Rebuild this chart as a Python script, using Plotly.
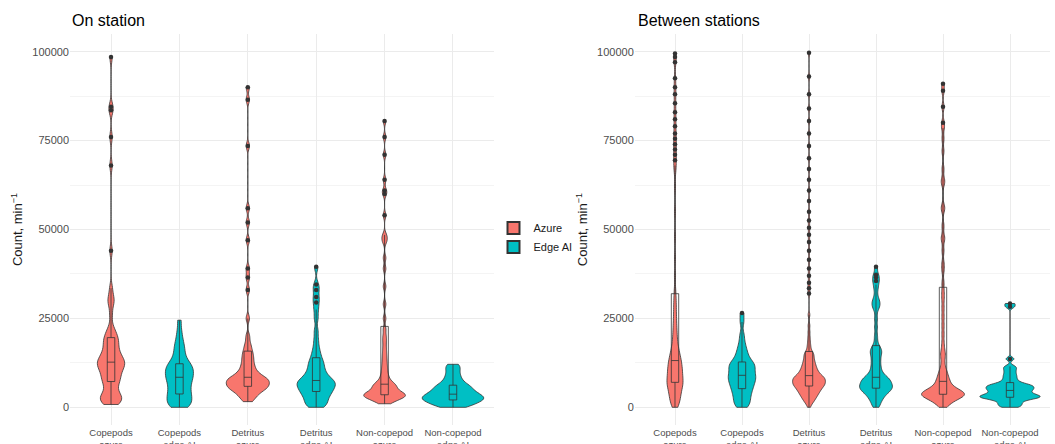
import plotly.graph_objects as go

categories = ["Copepods<br>azure", "Copepods<br>edge AI", "Detritus<br>azure",
              "Detritus<br>edge AI", "Non-copepod<br>azure", "Non-copepod<br>edge AI"]
group_source = ["Azure", "Edge AI", "Azure", "Edge AI", "Azure", "Edge AI"]
y_ticks = [0, 25000, 50000, 75000, 100000]

# ---------------- On station (counts per minute) ----------------
on_copepods_azure = [800, 1200, 1500, 1800, 2000, 2300, 2600, 3000, 3300, 3700, 4200, 5000, 6000, 6700, 7100,
                     7400, 7800, 8300, 8800, 9300, 9700, 10100, 10500, 10900, 11200, 11600, 11900, 12200, 12400, 12600,
                     12800, 13100, 13400, 13800, 14200, 14600, 15000, 15500, 16000, 16600, 17200, 17800, 18400, 18900, 19300,
                     19900, 20600, 21400, 22500,
                     26000, 29000, 30000, 31000, 33500, 44000, 68000, 76000, 83500, 84500, 98500]
on_copepods_edge = [0, 200, 500, 900, 1300, 1800, 2300, 2700, 3100, 3500,
                    4000, 4500, 5000, 5500, 6000, 6500, 7000, 7500, 7900, 8300,
                    8600, 9000, 9400, 9800, 10200, 10600, 11000, 11400, 11700, 12000,
                    12500, 13200, 14000, 15000, 16000, 17000, 18000, 19500, 21500, 24500]
on_detritus_azure = [1600, 2200, 2800, 3300, 3700, 4100, 4400, 4700, 5000, 5200, 5400, 5600, 5750,
                     5900, 6100, 6300, 6500, 6700, 6900, 7100, 7300, 7500, 7700, 7850, 8000, 8100,
                     8300, 8600, 8900, 9200, 9600, 10000, 10500, 11000, 11600, 12200, 12900, 13600, 14300,
                     15000, 15800, 16800, 18000, 20000, 25000, 33000, 36500, 39000, 47000, 52000, 56000,
                     73500, 86500, 90000]
on_detritus_edge = [0, 300, 700, 1100, 1500, 2000, 2500, 2900, 3300, 3700, 4000, 4300,
                    4600, 4900, 5200, 5500, 5800, 6000, 6300, 6600, 6800, 7000, 7200, 7400,
                    7700, 8000, 8400, 8800, 9300, 9800, 10300, 10900, 11600, 12200, 12800, 13400,
                    14500, 15500, 17000, 19000, 21500, 25000, 27500, 29500, 31000, 33000, 34500, 39500]
on_noncopepod_azure = [1000, 1400, 1700, 2000, 2200, 2400, 2600, 2800, 2900, 3000, 3100, 3200, 3300, 3400, 3450,
                       3550, 3650, 3800, 3950, 4100, 4300, 4500, 4700, 4900, 5200, 5500, 5800, 6000, 6150, 6250,
                       6500, 6800, 7200, 7700, 8300, 9000, 9800, 10700, 11700, 12800, 14000, 15300, 16800, 18500, 20000,
                       22000, 25000, 29000, 34000, 39000, 42000, 46500, 47500, 48500, 54000, 60000, 61000, 64000,
                       71000, 76000, 80500]
on_noncopepod_edge = [0, 200, 450, 700, 950, 1200, 1450, 1650, 1850, 2000,
                      2150, 2300, 2450, 2600, 2750, 2900, 3050, 3250, 3450, 3600,
                      3800, 4000, 4250, 4500, 4750, 5000, 5300, 5600, 5850, 6050,
                      6400, 6800, 7300, 7900, 8500, 9200, 10000, 10800, 11500, 12100]

# ---------------- Between stations ----------------
btw_copepods_azure = [0, 300, 700, 1100, 1500, 1900, 2300, 2700, 3000, 3300, 3600, 3900, 4200, 4500, 4800, 5100,
                      5400, 5700, 6000, 6200, 6400, 6600, 6800, 6950,
                      7100, 7350, 7600, 7850, 8100, 8350, 8600, 8850, 9100, 9350, 9600, 9850, 10100, 10350, 10600,
                      10850, 11100, 11350, 11600, 11850, 12100, 12400, 12700, 13000,
                      13300, 13600, 13900, 14200, 14500, 14900, 15300, 15700, 16200, 16700, 17300, 17900, 18600,
                      19400, 20200, 21100, 22000, 23000, 24100, 25300, 26600, 28000, 29400, 30900,
                      33000, 37000, 42000, 48000, 55000, 62000, 66500, 68000, 69500, 71000, 72500, 74000, 75500,
                      77000, 79000, 81000, 83000, 85500, 88000, 90000, 92500, 97000, 98500, 99500]
btw_copepods_edge = [0, 500, 1100, 1700, 2300, 2900, 3500, 4000, 4500, 5000,
                     5500, 5900, 6300, 6700, 7100, 7500, 7900, 8200, 8500, 8800,
                     9200, 9600, 10000, 10400, 10800, 11200, 11600, 11900, 12200, 12500,
                     13000, 13600, 14300, 15100, 16000, 17000, 18500, 20500, 24000, 26500]
btw_detritus_azure = [0, 900, 1280, 1610, 1890, 2140, 2380, 2600, 2800, 2990, 3180, 3350, 3520, 3680, 3840, 3990,
                      4130, 4270, 4410, 4550, 4680, 4800, 4930, 5050, 5170, 5290, 5400, 5520, 5630, 5740, 5840, 5950,
                      6040, 6130, 6220, 6310, 6400, 6490, 6580, 6670, 6760, 6850, 6940, 7030, 7120, 7210, 7300, 7390,
                      7480, 7570, 7660, 7750, 7840, 7930, 8020, 8110, 8200, 8290, 8380, 8470, 8560, 8650, 8740, 8850,
                      8980, 9100, 9230, 9360, 9500, 9640, 9790, 9940, 10100, 10260, 10430, 10600, 10780, 10960,
                      11150, 11350, 11550, 11760, 11980, 12200, 12430, 12670, 12920, 13180, 13450, 13730, 14020,
                      14320, 14630, 14950, 15200, 15380,
                      16000, 16700, 17500, 18500, 19700, 21200, 23000, 26000,
                      32000, 33500, 35000, 37000, 39000, 41500, 44000, 46500, 48500, 50500, 52500, 55000, 58000,
                      61000, 64000, 67000, 70000, 73500, 77000, 80500, 84000, 88000, 93000, 99700]
btw_detritus_edge = [0, 800, 1500, 2100, 2600, 3000, 3400, 3700, 4000, 4300, 4600, 4800, 5000, 5150, 5300,
                     5450, 5650, 5850, 6050, 6250, 6450, 6650, 6850, 7050, 7300, 7550, 7800, 8000, 8150, 8300,
                     8600, 9000, 9500, 10000, 10600, 11200, 11900, 12600, 13300, 14000, 14700, 15300, 15800, 16300, 16700,
                     18000, 20000, 22500, 25000, 27500, 28500, 29200, 29800, 31000, 33000, 34500, 35500, 36500,
                     37300, 39500]
btw_noncopepod_azure = [0, 600, 1100, 1300, 1500, 1900, 2200, 2450, 2550, 2650, 2850, 3000, 3150, 3250, 3300, 3400,
                        3500, 3580, 3630,
                        3700, 3750, 3800, 3900, 4000, 4150, 4300, 4450, 4600, 4700, 4800, 5000, 5300, 5450, 5600,
                        5900, 6300, 6700, 7100,
                        7500, 7800, 8000, 8600, 9300, 9700, 10200, 11200, 12500, 14000, 15000, 16000, 18000, 20500,
                        23000, 25500, 28000, 30500, 32500,
                        35000, 38500, 40500, 44000, 47000, 48000, 51000, 55500, 56500, 63000, 64000, 67000, 72000,
                        75500, 78500, 80000, 84500, 89000, 91000]
btw_noncopepod_edge = [0, 400, 800, 1200, 1600, 2000, 2300, 2500, 2650, 2750,
                       2900, 3050, 3200, 3350, 3500, 3700, 3900, 4150, 4400, 4650,
                       4850, 5050, 5250, 5450, 5650, 5850, 6050, 6250, 6450, 6700,
                       7200, 7800, 8500, 9200, 10000, 10800, 11500, 13600, 28300, 29200]

on_station = [on_copepods_azure, on_copepods_edge, on_detritus_azure,
              on_detritus_edge, on_noncopepod_azure, on_noncopepod_edge]
between_stations = [btw_copepods_azure, btw_copepods_edge, btw_detritus_azure,
                    btw_detritus_edge, btw_noncopepod_azure, btw_noncopepod_edge]

colors = {"Azure": "#F8766D", "Edge AI": "#00BFC4"}
# styling (violin max width in category units, KDE bandwidth)
on_widths = [0.40, 0.41, 0.63, 0.56, 0.61, 0.90]
btw_widths = [0.24, 0.41, 0.49, 0.49, 0.64, 0.90]
on_bw = [1500, 1500, 1000, 1200, 900, 900]
btw_bw = [1500, 1200, 700, 1000, 1100, 500]

fig = go.Figure()
shown = set()
for panel, (data, widths, bws, xa, ya) in enumerate([
        (on_station, on_widths, on_bw, "x", "y"),
        (between_stations, btw_widths, btw_bw, "x2", "y2")]):
    for cat, src, vals, w, bw in zip(categories, group_source, data, widths, bws):
        show = src not in shown
        shown.add(src)
        fig.add_trace(go.Violin(
            x0=cat, y=vals, name=src, legendgroup=src, showlegend=show,
            xaxis=xa, yaxis=ya, width=w, bandwidth=bw, spanmode="hard",
            scalemode="width", points=False, box_visible=False, meanline_visible=False,
            fillcolor=colors[src], line=dict(color="#333333", width=0.8), opacity=1,
            hoverinfo="skip"))
        fig.add_trace(go.Box(
            x0=cat, y=vals, name=src, legendgroup=src, showlegend=False,
            xaxis=xa, yaxis=ya, width=0.11, whiskerwidth=0,
            fillcolor="rgba(0,0,0,0)", line=dict(color="#333333", width=0.8),
            boxpoints="outliers", jitter=0, pointpos=0,
            marker=dict(color="#333333", size=4.5, line=dict(width=0)),
            hoverinfo="skip"))

font_family = "Liberation Sans, Arial, sans-serif"
W, H = 1055, 444
ydom = [(444 - 425.1) / H, (444 - 33.9) / H]

xaxis_common = dict(type="category", categoryorder="array", categoryarray=categories,
                    range=[-0.6, 5.6], showgrid=True, gridcolor="#ebebeb", gridwidth=1,
                    zeroline=False, showline=False, ticks="", automargin=False,
                    tickfont=dict(size=9.5, color="#4d4d4d", family=font_family))
yaxis_common = dict(range=[-5000, 105000], tickvals=y_ticks, ticktext=[str(v) for v in y_ticks],
                    showgrid=True, gridcolor="#ebebeb", gridwidth=1, zeroline=False, showline=False,
                    ticks="", automargin=False, tickfont=dict(size=11, color="#4d4d4d", family=font_family),
                    minor=dict(tick0=0, dtick=12500, showgrid=True, gridcolor="#f4f4f4", gridwidth=0.6),
                    title=dict(text="Count, min<sup>−1</sup>", standoff=6,
                               font=dict(size=13, color="#1a1a1a", family=font_family)),
                    domain=ydom)

fig.update_layout(
    width=W, height=H, margin=dict(l=0, r=0, t=0, b=0, autoexpand=False),
    paper_bgcolor="white", plot_bgcolor="white",
    violinmode="overlay", boxmode="overlay",
    font=dict(family=font_family),
    xaxis=dict(domain=[70 / W, 494 / W], anchor="y", **xaxis_common),
    yaxis=dict(anchor="x", **yaxis_common),
    xaxis2=dict(domain=[634.8 / W, 1050.2 / W], anchor="y2", **xaxis_common),
    yaxis2=dict(anchor="x2", **yaxis_common),
    legend=dict(x=493.5 / W, y=(444 - 237.5) / H, xanchor="left", yanchor="middle",
                font=dict(size=11, color="#1a1a1a", family=font_family),
                bgcolor="rgba(0,0,0,0)", tracegroupgap=0, itemsizing="constant"),
    annotations=[
        dict(text="On station", x=70 / W, y=(444 - 21) / H, xref="paper", yref="paper",
             xanchor="left", yanchor="middle", showarrow=False,
             font=dict(size=16, color="#000000", family=font_family)),
        dict(text="Between stations", x=636 / W, y=(444 - 21) / H, xref="paper", yref="paper",
             xanchor="left", yanchor="middle", showarrow=False,
             font=dict(size=16, color="#000000", family=font_family)),
    ],
)

fig.write_html("out.html")
